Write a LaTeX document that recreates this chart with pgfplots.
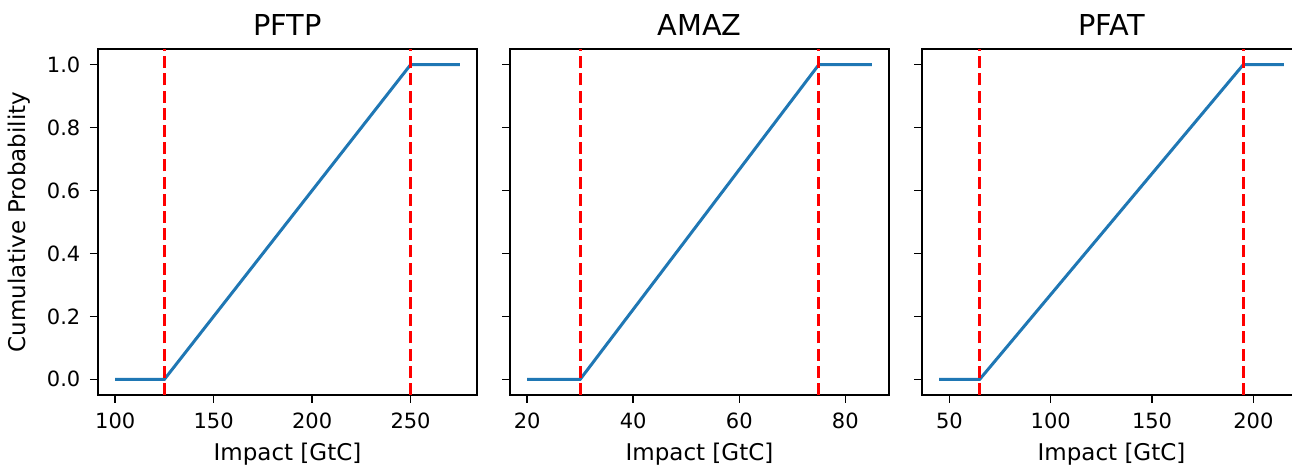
\documentclass[border=0pt]{standalone}
\usepackage{fontspec}
\setmainfont{DejaVu Sans}
\usepackage{pgfplots}
\pgfplotsset{compat=1.18}
\definecolor{mplblue}{RGB}{31,119,180}

\pgfplotsset{
  cdfpanel/.style={
    scale only axis, width=189.5pt, height=173pt,
    anchor=south west,
    ymin=-0.05, ymax=1.05,
    ytick={0,0.2,0.4,0.6,0.8,1.0},
    /pgf/number format/assume math mode=true,
    tick align=outside, major tick length=4pt,
    xtick pos=bottom, ytick pos=left,
    axis line style={line width=0.75pt},
    every tick/.style={black, line width=0.75pt},
    tick label style={font=\fontsize{10.5}{12}\selectfont},
    xticklabel style={yshift=-1.4pt},
    yticklabel style={xshift=-1.3pt, /pgf/number format/fixed,
      /pgf/number format/fixed zerofill, /pgf/number format/precision=1},
    xlabel={Impact [GtC]},
    every axis x label/.style={at={(axis description cs:0.5,-0.188)}, anchor=base,
      font=\fontsize{11.5}{13}\selectfont},
    every axis y label/.style={at={(axis description cs:-0.19,0.5)}, rotate=90, anchor=base,
      font=\fontsize{11.5}{13}\selectfont},
    every axis title/.style={at={(axis description cs:0.5,1.038)}, anchor=base,
      font=\fontsize{14.4}{16}\selectfont},
  },
  cdfline/.style={mplblue, line width=1.5pt},
  bound/.style={red, line width=1.5pt, dash pattern=on 6pt off 2.6pt},
}

\begin{document}
\begin{tikzpicture}
  \path[use as bounding box] (0,0) rectangle (646pt,233pt);
  \clip (0,0) rectangle (646pt,233pt);

  % PFTP
  \begin{axis}[cdfpanel, at={(49pt,35.5pt)},
      title={PFTP}, ylabel={Cumulative Probability},
      xmin=91.25, xmax=283.75, xtick={100,150,200,250}]
    \addplot[cdfline] coordinates {(100,0) (125,0) (250,1) (275,1)};
    \addplot[bound] coordinates {(125,-0.05) (125,1.05)};
    \addplot[bound] coordinates {(250,-0.05) (250,1.05)};
  \end{axis}

  % AMAZ
  \begin{axis}[cdfpanel, at={(255pt,35.5pt)},
      title={AMAZ}, yticklabels={},
      xmin=16.75, xmax=88.25, xtick={20,40,60,80}]
    \addplot[cdfline] coordinates {(20,0) (30,0) (75,1) (85,1)};
    \addplot[bound] coordinates {(30,-0.05) (30,1.05)};
    \addplot[bound] coordinates {(75,-0.05) (75,1.05)};
  \end{axis}

  % PFAT
  \begin{axis}[cdfpanel, at={(461pt,35.5pt)},
      title={PFAT}, yticklabels={},
      xmin=36.5, xmax=223.5, xtick={50,100,150,200}]
    \addplot[cdfline] coordinates {(45,0) (65,0) (195,1) (215,1)};
    \addplot[bound] coordinates {(65,-0.05) (65,1.05)};
    \addplot[bound] coordinates {(195,-0.05) (195,1.05)};
  \end{axis}
\end{tikzpicture}
\end{document}
